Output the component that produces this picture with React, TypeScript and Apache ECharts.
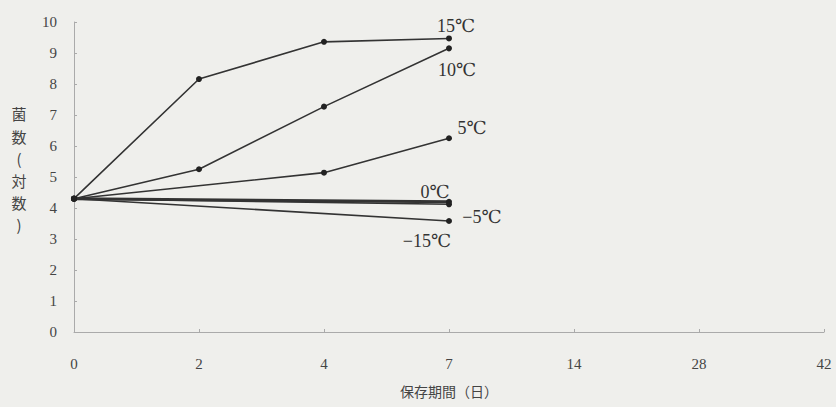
import React, { useEffect, useRef } from "react";
import * as echarts from "echarts";

const days = ["0", "2", "4", "7", "14", "28", "42"];
const yTicks = [0, 1, 2, 3, 4, 5, 6, 7, 8, 9, 10];
const t15 = [4.3, 8.16, 9.36, 9.47];
const t10 = [4.3, 5.25, 7.27, 9.15];
const t5 = [4.3, null, 5.14, 6.25];
const t0 = [4.3, null, null, 4.2];
const tm5 = [4.3, null, null, 4.12];
const tm15 = [4.3, null, null, 3.58];
const seriesNames = ["15℃", "10℃", "5℃", "0℃", "−5℃", "−15℃"];
const seriesData = [t15, t10, t5, t0, tm5, tm15];
const yNameChars = ["菌", "数", "(", "対", "数", ")"];
const labelOffsets = [
  [7, -12],
  [8, 22],
  [23, -10],
  [-14, -10],
  [33, 13],
  [-22, 20],
];

const serif = "'Liberation Serif', 'DejaVu Serif', 'Noto Sans CJK JP', serif";
const cjk = "'Noto Sans CJK JP', 'Noto Sans CJK SC', sans-serif";

export default function App() {
  const ref = useRef<HTMLDivElement>(null);
  useEffect(() => {
    document.body.style.margin = "0";
    const chart = echarts.init(ref.current!, null, { renderer: "svg" });
    const series = seriesData.map((arr, i) => ({
      type: "line",
      name: seriesNames[i],
      connectNulls: true,
      symbol: "circle",
      symbolSize: 6,
      showSymbol: true,
      lineStyle: { color: "#333", width: i === 3 ? 3 : 1.6 },
      itemStyle: { color: "#222" },
      data: arr.map((v, j) =>
        j === arr.length - 1
          ? {
              value: v,
              label: {
                show: true,
                position: "inside",
                align: "center",
                verticalAlign: "middle",
                offset: labelOffsets[i],
                formatter: seriesNames[i],
                fontFamily: serif,
                fontSize: 18,
                color: "#333",
              },
            }
          : v
      ),
    }));
    const yCharY = [113, 136, 158, 180, 202, 224];
    chart.setOption({
      animation: false,
      backgroundColor: "#efefec",
      grid: { left: 74, right: 12, top: 22, bottom: 75 },
      xAxis: {
        type: "category",
        data: days,
        boundaryGap: false,
        name: "保存期間（日）",
        nameLocation: "middle",
        nameGap: 52,
        nameTextStyle: { fontFamily: cjk, fontSize: 14, color: "#444" },
        axisLine: { lineStyle: { color: "#aaa", width: 1 } },
        axisTick: { inside: true, length: 3, alignWithLabel: true, lineStyle: { color: "#aaa" } },
        axisLabel: { margin: 24, fontFamily: serif, fontSize: 15, color: "#444" },
        splitLine: { show: false },
      },
      yAxis: {
        type: "value",
        min: 0,
        max: 10,
        interval: 1,
        axisLine: { show: true, lineStyle: { color: "#aaa", width: 1 } },
        axisTick: { show: true, inside: true, length: 3, lineStyle: { color: "#aaa" } },
        axisLabel: {
          margin: 17,
          fontFamily: serif,
          fontSize: 15,
          color: "#444",
          formatter: (v: number) => (yTicks.includes(v) ? String(v) : ""),
        },
        splitLine: { show: false },
      },
      graphic: yNameChars.map((c, i) => ({
        type: "text",
        x: 19,
        y: yCharY[i],
        style: {
          text: c,
          font: "15px " + cjk,
          fill: "#444",
          align: "center",
          verticalAlign: "middle",
        },
      })),
      series,
    });
    return () => chart.dispose();
  }, []);
  return <div ref={ref} style={{ width: 836, height: 407 }} />;
}
